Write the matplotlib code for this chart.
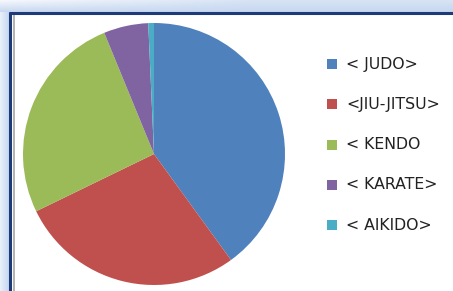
import numpy as np
import matplotlib
matplotlib.use('Agg')
import matplotlib.pyplot as plt
from matplotlib.patches import Rectangle

# Dados do gráfico
artes = ['< JUDO>', '<JIU-JITSU>', '< KENDO', '< KARATE>', '< AIKIDO>']
valores = [40.0, 27.8, 26.0, 5.5, 0.7]
cores = ['#4F81BD', '#C0504D', '#9BBB59', '#8064A2', '#4BACC6']

W, H = 453, 291
fig = plt.figure(figsize=(W / 100, H / 100), dpi=100)

# Fundo com gradiente azul claro (moldura estilo Excel)
fundo = fig.add_axes([0, 0, 1, 1])
yy, xx = np.mgrid[0:H, 0:W]
dist = np.where(yy < 12, 12 - yy, 9 - xx)
t = np.clip(dist / 12.0, 0, 1)
lateral = np.clip(xx / 250.0, 0, 1)
t = t * (1 - 0.6 * lateral * (yy < 12))
perto = np.array([0.77, 0.84, 0.94])
longe = np.array([0.96, 0.97, 0.99])
img = perto[None, None, :] * (1 - t[..., None]) + longe[None, None, :] * t[..., None]
fundo.imshow(img, extent=[0, W, H, 0], aspect='auto')
fundo.set_xlim(0, W)
fundo.set_ylim(H, 0)
fundo.axis('off')

# área branca do gráfico e borda
fundo.add_patch(Rectangle((10, 13), W, H, facecolor='white', edgecolor='none'))
fundo.plot([9, W], [12.5, 12.5], color='#1f3a78', lw=2.2, solid_capstyle='butt')
fundo.plot([10, 10], [12, H], color='#1f3a78', lw=2.2, solid_capstyle='butt')
fundo.plot([13.5, 13.5], [15, H], color='#a6a6a6', lw=1.2, solid_capstyle='butt')

# Pizza
ax = fig.add_axes([23 / W, (H - 154 - 131) / H, 262 / W, 262 / H])
ax.pie(valores, colors=cores, startangle=90, counterclock=False,
       wedgeprops=dict(linewidth=0, edgecolor='none'))
ax.set_xlim(-1, 1)
ax.set_ylim(-1, 1)
ax.set_aspect('equal')
ax.axis('off')

# Legenda
y0, passo = 64, 40.3
for i, (nome, cor) in enumerate(zip(artes, cores)):
    y = y0 + i * passo
    fundo.add_patch(Rectangle((327, y - 5), 10, 10, facecolor=cor, edgecolor='none'))
    fundo.text(346, y, nome, fontsize=11.3, family='DejaVu Sans', color='#222222',
               va='center', ha='left')

fig.savefig('out.png', dpi=100)
